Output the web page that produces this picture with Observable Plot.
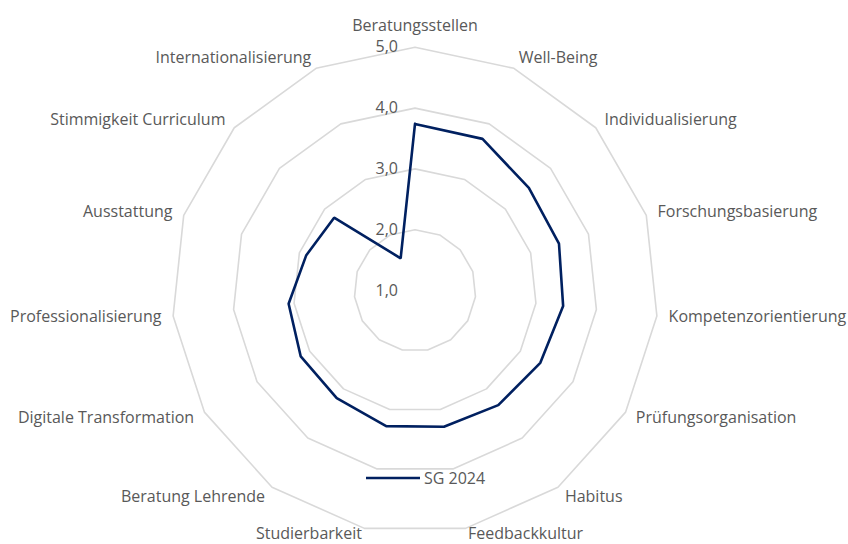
<!DOCTYPE html>
<html><head><meta charset="utf-8">
<script src="https://cdn.jsdelivr.net/npm/d3@7"></script>
<script src="https://cdn.jsdelivr.net/npm/@observablehq/plot@0.6"></script>
<style>
body{margin:0;background:#fff;}
#wrap{position:relative;width:848px;height:544px;}
#legend{position:absolute;left:366px;top:467px;display:flex;align-items:center;font:16px "Open Sans", sans-serif;color:#595959;white-space:nowrap}
#legend svg{margin-right:4px}
</style></head><body><div id="wrap"></div>
<script>
const categories = ["Beratungsstellen","Well-Being","Individualisierung","Forschungsbasierung","Kompetenzorientierung","Prüfungsorganisation","Habitus","Feedbackkultur","Studierbarkeit","Beratung Lehrende","Digitale Transformation","Professionalisierung","Ausstattung","Stimmigkeit Curriculum","Internationalisierung"];
const values = [3.74, 3.73, 3.52, 3.49, 3.45, 3.38, 3.33, 3.29, 3.28, 3.19, 3.17, 3.09, 2.88, 2.79, 1.58];
const seriesName = "SG 2024";
const ringLevels = [2, 3, 4, 5];
const tickValues = [1, 2, 3, 4, 5];
const tickLabels = ["1,0", "2,0", "3,0", "4,0", "5,0"];
const axisMin = 1;

const W = 848, H = 544, unit = 60.8, cx = 414.5, cy = 290;
const gridColor = "#d9d9d9", lineColor = "#002060", textColor = "#595959";
const font = "'Open Sans', sans-serif";

const n = categories.length;
const ang = i => 2 * Math.PI * i / n;
const px = (i, v) => (v - axisMin) * Math.sin(ang(i));
const py = (i, v) => (v - axisMin) * Math.cos(ang(i));

const rings = ringLevels.flatMap(lv => d3.range(n + 1).map(k => ({lv, x: px(k % n, lv), y: py(k % n, lv)})));
const series = d3.range(n + 1).map(k => ({x: px(k % n, values[k % n]), y: py(k % n, values[k % n])}));

const labelV = axisMin + 255 / unit;
const labels = categories.map((c, i) => {
  const s = Math.sin(ang(i)), co = Math.cos(ang(i));
  let y = py(i, labelV);
  if (co > 0.95) y += 10 / unit;
  if (co < -0.95) y += 6 / unit;
  return {c, x: px(i, labelV), y, anchor: s > 0.1 ? "start" : s < -0.1 ? "end" : "middle"};
});
const ticks = tickValues.map((v, i) => ({x: px(0, v), y: py(0, v), t: tickLabels[i]}));

const textOpts = {fill: textColor, fontSize: 16, fontFamily: font};
const chart = Plot.plot({
  width: W, height: H,
  marginLeft: 0, marginRight: 0, marginTop: 0, marginBottom: 0,
  x: {domain: [-cx / unit, (W - cx) / unit], axis: null},
  y: {domain: [-(H - cy) / unit, cy / unit], axis: null},
  style: {fontFamily: font, background: "white"},
  marks: [
    Plot.line(rings, {x: "x", y: "y", z: "lv", stroke: gridColor, strokeWidth: 1.6}),
    Plot.line(series, {x: "x", y: "y", stroke: lineColor, strokeWidth: 2.6, strokeLinejoin: "miter"}),
    Plot.text(ticks, {x: "x", y: "y", text: "t", textAnchor: "end", dx: -17, ...textOpts}),
    ...["start", "middle", "end"].map(a => Plot.text(labels.filter(d => d.anchor === a), {x: "x", y: "y", text: "c", textAnchor: a, ...textOpts}))
  ]
});
const wrap = document.getElementById("wrap");
wrap.appendChild(chart);
const lg = document.createElement("div");
lg.id = "legend";
lg.innerHTML = `<svg width="54" height="4"><line x1="0" x2="54" y1="2" y2="2" stroke="${lineColor}" stroke-width="2.6"/></svg><span>${seriesName}</span>`;
wrap.appendChild(lg);
</script></body></html>
